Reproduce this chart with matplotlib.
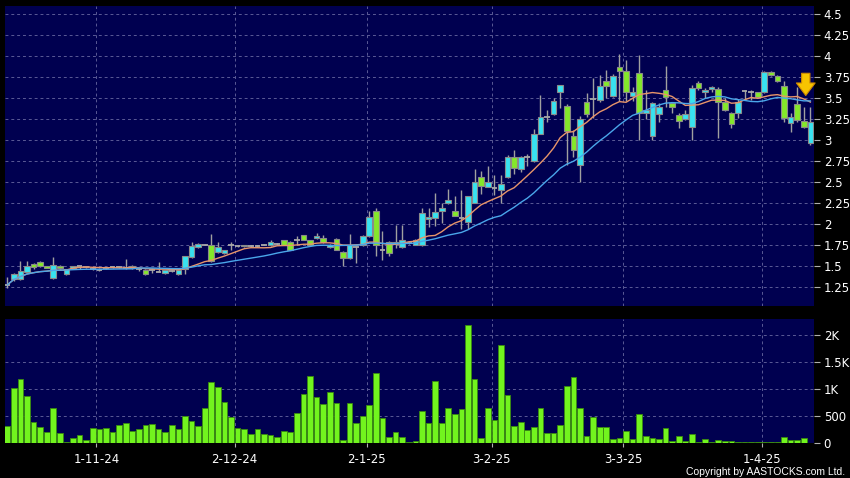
import numpy as np
import pandas as pd
import matplotlib
matplotlib.use('Agg')
import matplotlib.pyplot as plt

# daily OHLC (one value per trading day)
opens = [1.28, 1.35, 1.35, 1.44, 1.53, 1.55, 1.50, 1.36, 1.51, 1.41,
         1.48, 1.50, 1.49, 1.47, 1.46, 1.48, 1.49, 1.49, 1.48, 1.48,
         1.47, 1.46, 1.46, 1.44, 1.42, 1.45, 1.41, 1.47, 1.61, 1.73,
         1.76, 1.76, 1.67, 1.66, 1.75, 1.74, 1.74, 1.74, 1.74, 1.76,
         1.75, 1.77, 1.81, 1.79, 1.81, 1.87, 1.81, 1.84, 1.84, 1.73,
         1.83, 1.67, 1.60, 1.735, 1.75, 1.86, 2.16, 1.70, 1.79, 1.77,
         1.73, 1.78, 1.76, 1.76, 2.07, 2.08, 2.16, 2.25, 2.16, 2.08,
         2.03, 2.26, 2.56, 2.45, 2.43, 2.41, 2.56, 2.80, 2.66, 2.80,
         2.75, 3.08, 3.28, 3.31, 3.57, 3.41, 3.05, 2.71, 3.46, 3.49,
         3.48, 3.71, 3.53, 3.87, 3.82, 3.53, 3.80, 3.32, 3.05, 3.31,
         3.60, 3.44, 3.30, 3.25, 3.16, 3.68, 3.57, 3.61, 3.61, 3.45,
         3.32, 3.33, 3.59, 3.58, 3.57, 3.57, 3.81, 3.77, 3.65, 3.20,
         3.43, 3.23, 2.97]
highs = [1.37, 1.42, 1.56, 1.56, 1.54, 1.56, 1.51, 1.61, 1.52, 1.47,
         1.51, 1.51, 1.50, 1.49, 1.48, 1.49, 1.50, 1.50, 1.59, 1.52,
         1.48, 1.47, 1.48, 1.55, 1.46, 1.46, 1.46, 1.62, 1.79, 1.78,
         1.77, 1.89, 1.79, 1.70, 1.79, 1.75, 1.76, 1.75, 1.75, 1.77,
         1.81, 1.78, 1.82, 1.80, 1.86, 1.88, 1.82, 1.90, 1.87, 1.77,
         1.84, 1.68, 1.89, 1.74, 1.88, 2.16, 2.19, 1.92, 1.80, 1.99,
         1.99, 1.79, 1.83, 2.19, 2.20, 2.37, 2.25, 2.42, 2.34, 2.41,
         2.34, 2.66, 2.64, 2.70, 2.59, 2.59, 2.83, 2.89, 2.81, 2.84,
         3.13, 3.54, 3.36, 3.50, 3.66, 3.43, 3.12, 3.29, 3.56, 3.74,
         3.78, 3.84, 3.79, 4.03, 3.95, 3.63, 4.01, 3.60, 3.45, 3.44,
         3.88, 3.46, 3.32, 3.36, 3.66, 3.70, 3.62, 3.65, 3.63, 3.50,
         3.34, 3.49, 3.60, 3.60, 3.58, 3.82, 3.82, 3.78, 3.70, 3.33,
         3.63, 3.40, 3.40]
lows = [1.24, 1.33, 1.34, 1.43, 1.47, 1.49, 1.48, 1.35, 1.47, 1.40,
        1.47, 1.47, 1.48, 1.46, 1.45, 1.47, 1.48, 1.48, 1.47, 1.47,
        1.45, 1.40, 1.42, 1.43, 1.41, 1.44, 1.40, 1.41, 1.60, 1.72,
        1.75, 1.55, 1.66, 1.65, 1.70, 1.73, 1.73, 1.73, 1.73, 1.75,
        1.74, 1.76, 1.75, 1.69, 1.76, 1.81, 1.75, 1.83, 1.78, 1.72,
        1.69, 1.51, 1.59, 1.545, 1.74, 1.85, 1.62, 1.58, 1.63, 1.72,
        1.72, 1.77, 1.75, 1.74, 1.97, 1.98, 2.02, 2.24, 2.10, 1.95,
        1.95, 2.25, 2.36, 2.44, 2.35, 2.25, 2.55, 2.60, 2.62, 2.70,
        2.74, 3.07, 3.22, 3.30, 3.39, 2.71, 2.80, 2.50, 3.28, 3.27,
        3.46, 3.50, 3.52, 3.47, 3.47, 3.47, 3.00, 3.25, 3.00, 3.22,
        3.40, 3.33, 3.15, 3.24, 3.00, 3.60, 3.50, 3.58, 3.03, 3.35,
        3.15, 3.27, 3.48, 3.48, 3.51, 3.56, 3.77, 3.69, 3.22, 3.10,
        3.22, 3.15, 2.95]
closes = [1.28, 1.41, 1.45, 1.50, 1.49, 1.50, 1.48, 1.52, 1.48, 1.47,
          1.50, 1.50, 1.49, 1.47, 1.46, 1.48, 1.49, 1.49, 1.48, 1.50,
          1.47, 1.41, 1.46, 1.44, 1.46, 1.45, 1.46, 1.62, 1.74, 1.77,
          1.76, 1.56, 1.73, 1.69, 1.75, 1.74, 1.75, 1.74, 1.74, 1.76,
          1.79, 1.77, 1.76, 1.70, 1.81, 1.82, 1.76, 1.86, 1.79, 1.75,
          1.70, 1.60, 1.75, 1.735, 1.86, 2.09, 1.76, 1.70, 1.66, 1.79,
          1.81, 1.78, 1.82, 2.13, 2.09, 2.15, 2.20, 2.29, 2.10, 2.08,
          2.34, 2.50, 2.46, 2.50, 2.43, 2.48, 2.80, 2.67, 2.80, 2.80,
          3.08, 3.28, 3.28, 3.47, 3.66, 3.11, 2.88, 3.25, 3.31, 3.49,
          3.65, 3.65, 3.77, 3.83, 3.58, 3.58, 3.33, 3.36, 3.44, 3.40,
          3.52, 3.40, 3.23, 3.31, 3.62, 3.62, 3.60, 3.63, 3.45, 3.36,
          3.19, 3.45, 3.59, 3.58, 3.52, 3.81, 3.78, 3.70, 3.26, 3.28,
          3.24, 3.16, 3.22]
volumes = [321, 1012, 1191, 877, 389, 296, 198, 654, 191, 10,
           86, 148, 56, 284, 265, 284, 198, 333, 370, 222,
           259, 340, 352, 265, 204, 340, 253, 506, 401, 321,
           648, 1130, 1037, 753, 488, 272, 253, 173, 265, 167,
           148, 111, 228, 198, 562, 901, 1241, 858, 728, 951,
           747, 62, 741, 377, 500, 710, 1302, 457, 117, 210,
           117, 20, 37, 599, 364, 1154, 364, 648, 537, 636,
           2185, 1191, 93, 642, 426, 1827, 889, 321, 395, 241,
           296, 642, 179, 185, 333, 1062, 1222, 642, 123, 481,
           296, 302, 74, 93, 222, 80, 537, 123, 99, 74,
           278, 43, 123, 37, 173, 12, 80, 25, 49, 37,
           43, 25, 25, 25, 25, 25, 25, 25, 111, 56,
           62, 99, 0]

date_pos = [13.55, 34.55, 54.6, 73.6, 93.6, 114.6]
date_labels = ['1-11-24', '2-12-24', '2-1-25', '3-2-25', '3-3-25', '1-4-25']
price_ticks = [1.25, 1.5, 1.75, 2.0, 2.25, 2.5, 2.75, 3.0, 3.25, 3.5, 3.75, 4.0, 4.25, 4.5]
price_labels = ['1.25', '1.5', '1.75', '2', '2.25', '2.5', '2.75', '3', '3.25', '3.5', '3.75', '4', '4.25', '4.5']
vol_ticks = [0, 500, 1000, 1500, 2000]
vol_labels = ['0', '500', '1K', '1.5K', '2K']

NAVY = '#000050'
CYAN = '#38E2F0'
GREEN = '#84E82A'
VOLGREEN = '#72F41E'
GRID = '#5a5a96'

o = np.array(opens)
h = np.array(highs)
l = np.array(lows)
c = np.array(closes)
x = np.arange(len(c))
ma10 = pd.Series(c).rolling(10, min_periods=1).mean()
ma20 = pd.Series(c).rolling(20, min_periods=1).mean()

fig = plt.figure(figsize=(8.5, 4.78), dpi=100, facecolor='black')
ax = fig.add_axes([5/850, 1-306/478, 809/850, 300/478])
axv = fig.add_axes([5/850, 1-443/478, 809/850, 124/478])

for a in (ax, axv):
    a.set_facecolor(NAVY)
    for s in a.spines.values():
        s.set_visible(False)
    a.set_xlim(-0.33, len(c) - 0.45)
    a.set_xticks(date_pos)
    a.grid(True, color=GRID, ls=(0, (3, 3)), lw=0.7)
    a.set_axisbelow(True)
    a.yaxis.tick_right()
    a.tick_params(axis='y', color='#b0b0b0', labelcolor='white', length=4, pad=3, labelsize=8.5)

# price panel
up = c > o
down = c < o
flat = c == o
ax.vlines(x, l, h, color='#a0a0a0', lw=1, zorder=2)
ax.bar(x[up], (c - o)[up], bottom=o[up], width=0.86, color=CYAN, edgecolor='#8a8a8a', lw=0.8, zorder=3)
ax.bar(x[down], (o - c)[down], bottom=c[down], width=0.86, color=GREEN, edgecolor='#8a8a8a', lw=0.8, zorder=3)
ax.hlines(c[flat], x[flat] - 0.43, x[flat] + 0.43, color='#a8a8a8', lw=1.3, zorder=3)
ax.plot(x, ma10, color='#E8956A', lw=1, zorder=4)
ax.plot(x, ma20, color='#4AA6EA', lw=1, zorder=4)
ax.set_ylim(1.03, 4.597)
ax.set_yticks(price_ticks)
ax.set_yticklabels(price_labels)
ax.tick_params(axis='x', length=0, labelbottom=False)

# signal arrow above the latest bars
ax.annotate('', xy=(len(c) - 1.7, 3.50), xytext=(len(c) - 1.7, 3.83),
            arrowprops=dict(arrowstyle='simple,head_width=1.35,head_length=0.9,tail_width=0.6',
                            fc='#F7C400', ec='#D08A00', lw=0.8), zorder=5)

# volume panel
axv.bar(x, volumes, width=0.86, color=VOLGREEN, edgecolor='#3a8a10', lw=0.6, zorder=3)
axv.set_ylim(0, 2300)
axv.set_yticks(vol_ticks)
axv.set_yticklabels(vol_labels)
axv.set_xticklabels(date_labels)
axv.tick_params(axis='x', color='#b0b0b0', labelcolor='white', length=3, pad=4, labelsize=8.5)

fig.text(845/850, 1-477/478, 'Copyright by AASTOCKS.com Ltd.', ha='right', va='bottom',
         color='white', fontsize=7.5, family='Liberation Sans')

fig.savefig('out.png', dpi=100, facecolor='black')
